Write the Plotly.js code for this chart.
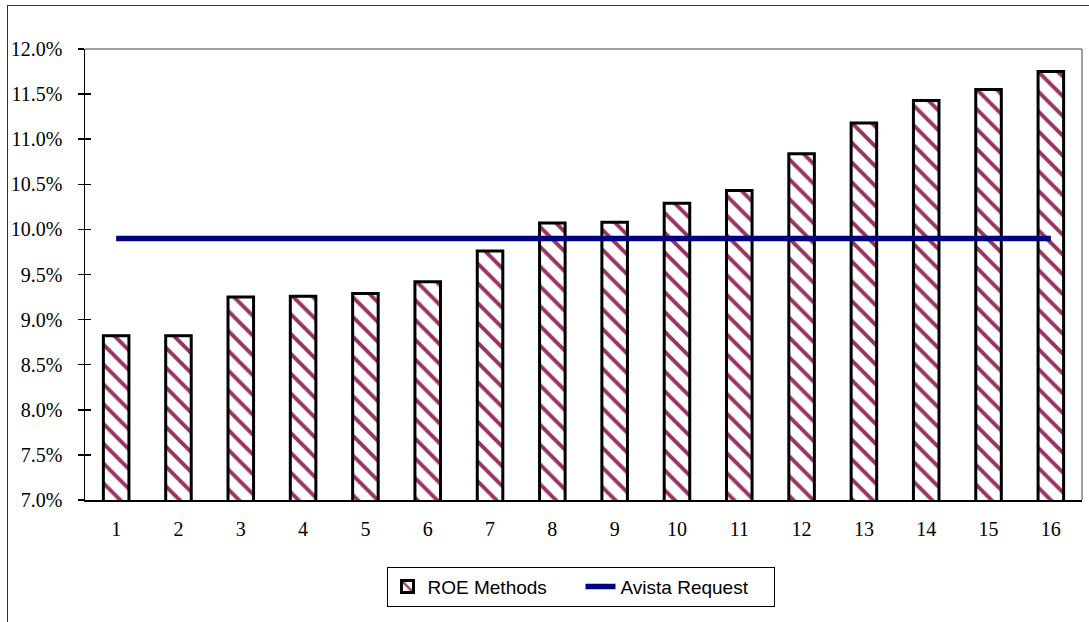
<!DOCTYPE html>
<html>
<head>
<meta charset="utf-8">
<script src="https://cdn.plot.ly/plotly-3.0.1.min.js"></script>
<style>
html,body{margin:0;padding:0;background:#fff;}
#wrap{position:relative;width:1089px;height:622px;overflow:hidden;}
#chart{position:absolute;left:0;top:0;width:1089px;height:622px;}
#frame{position:absolute;left:7px;top:5px;width:1200px;height:800px;border-left:1.5px solid #333;border-top:1.5px solid #333;pointer-events:none;}
</style>
</head>
<body>
<div id="wrap"><div id="chart"></div><div id="frame"></div></div>
<script>
const categories = ['1','2','3','4','5','6','7','8','9','10','11','12','13','14','15','16'];
const roeMethods = [8.82, 8.82, 9.25, 9.26, 9.29, 9.42, 9.76, 10.07, 10.08, 10.29, 10.43, 10.84, 11.18, 11.43, 11.55, 11.75];
const avistaRequest = [9.90, 9.90, 9.90, 9.90, 9.90, 9.90, 9.90, 9.90, 9.90, 9.90, 9.90, 9.90, 9.90, 9.90, 9.90, 9.90];
const yTickVals = [7.0, 7.5, 8.0, 8.5, 9.0, 9.5, 10.0, 10.5, 11.0, 11.5, 12.0];
const yTickText = ['7.0%','7.5%','8.0%','8.5%','9.0%','9.5%','10.0%','10.5%','11.0%','11.5%','12.0%'];

const traces = [
  {
    type: 'bar',
    name: 'ROE Methods',
    x: categories,
    y: roeMethods,
    width: 0.41,
    marker: {
      color: 'white',
      line: {color: '#000', width: 3},
      pattern: {shape: '\\', fgcolor: '#993366', bgcolor: '#ffffff', size: 14, solidity: 0.28}
    },
    hoverinfo: 'skip'
  },
  {
    type: 'scatter',
    mode: 'lines',
    name: 'Avista Request',
    x: categories,
    y: avistaRequest,
    line: {color: '#000080', width: 5.5},
    hoverinfo: 'skip'
  },
  {
    type: 'scatter',
    mode: 'lines',
    x: categories,
    y: avistaRequest,
    yaxis: 'y2',
    showlegend: false,
    line: {color: 'rgba(0,0,0,0)', width: 0},
    hoverinfo: 'skip'
  }
];

const layout = {
  width: 1089,
  height: 622,
  margin: {l: 85, r: 7, t: 49, b: 122},
  paper_bgcolor: 'rgba(0,0,0,0)',
  plot_bgcolor: '#fff',
  showlegend: true,
  font: {family: '"Liberation Serif", "Times New Roman", serif', size: 20, color: '#000'},
  xaxis: {
    type: 'category',
    range: [-0.5, 15.5],
    showline: true,
    linecolor: '#000',
    linewidth: 1.5,
    ticks: '',
    showgrid: false,
    zeroline: false,
    tickfont: {family: '"Liberation Serif", "Times New Roman", serif', size: 20, color: '#000'},
    ticklabelstandoff: 10,
    fixedrange: true
  },
  yaxis: {
    range: [7, 12],
    tickvals: yTickVals,
    ticktext: yTickText,
    showline: true,
    linecolor: '#000',
    linewidth: 1.5,
    ticks: 'outside',
    ticklen: 6,
    tickwidth: 1.5,
    tickcolor: '#000',
    showgrid: false,
    zeroline: false,
    tickfont: {family: '"Liberation Serif", "Times New Roman", serif', size: 20, color: '#000'},
    ticklabelstandoff: 11,
    fixedrange: true
  },
  yaxis2: {
    overlaying: 'y',
    matches: 'y',
    side: 'left',
    range: [7, 12],
    tickvals: yTickVals,
    showticklabels: false,
    showline: false,
    ticks: 'inside',
    ticklen: 6,
    tickwidth: 1.5,
    tickcolor: '#000',
    showgrid: false,
    zeroline: false,
    fixedrange: true
  },
  legend: {
    orientation: 'h',
    x: 0.497,
    xanchor: 'center',
    y: -0.148,
    yanchor: 'top',
    bordercolor: '#000',
    borderwidth: 1,
    bgcolor: '#fff',
    font: {family: '"Liberation Sans", Arial, sans-serif', size: 19, color: '#000'},
    entrywidth: 148,
    entrywidthmode: 'pixels',
    traceorder: 'normal'
  },
  shapes: [
    {type: 'line', xref: 'paper', yref: 'paper', x0: 0, x1: 1, y0: 1, y1: 1, line: {color: '#808080', width: 1.5}},
    {type: 'line', xref: 'paper', yref: 'paper', x0: 1, x1: 1, y0: 0, y1: 1, line: {color: '#808080', width: 1.5}}
  ]
};

Plotly.newPlot('chart', traces, layout, {staticPlot: true, displayModeBar: false});
</script>
</body>
</html>
